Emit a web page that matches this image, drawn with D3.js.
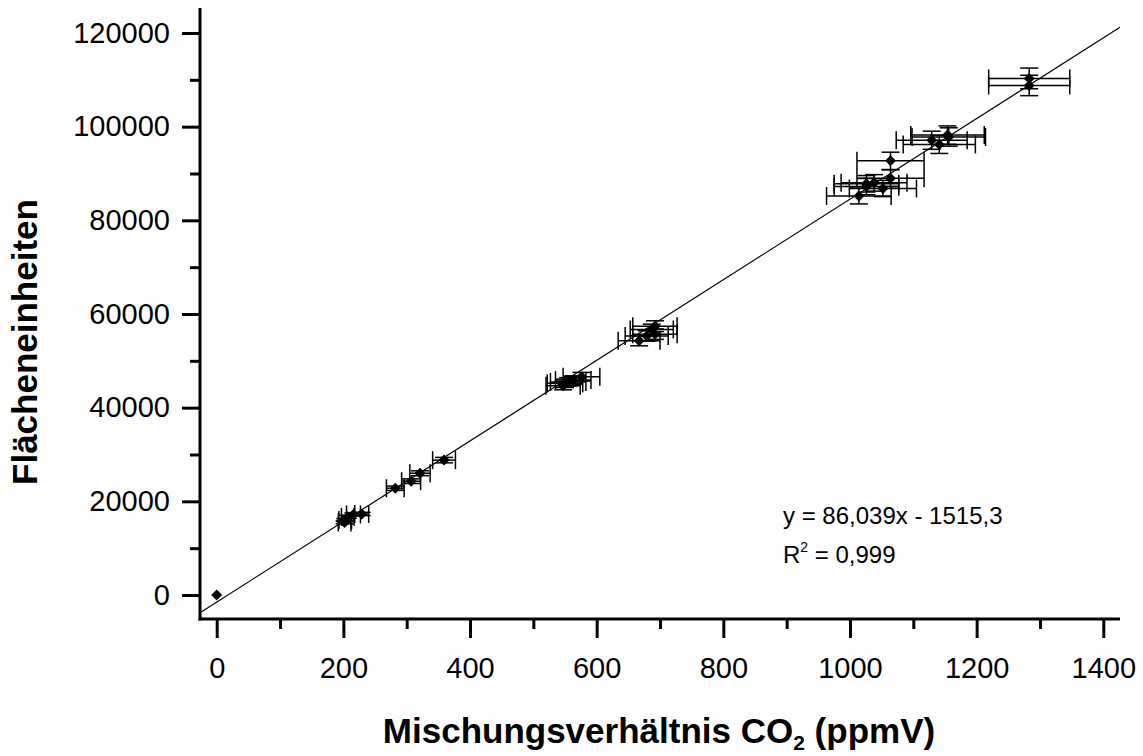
<!DOCTYPE html>
<html>
<head>
<meta charset="utf-8">
<script src="https://cdn.jsdelivr.net/npm/d3@7"></script>
<style>
  body { margin: 0; background: #fff; }
  svg { display: block; font-family: Arial, "Liberation Sans", sans-serif; }
</style>
</head>
<body>
<svg id="chart" width="1143" height="756"></svg>
<script>
// ---- data ----
const xValues = [0, 202, 203, 207, 216, 229, 282, 307, 321, 359,
  547, 550, 555, 563, 576, 667, 679, 687, 692, 692,
  1014, 1026, 1026, 1038, 1052, 1064, 1064, 1129, 1141, 1154, 1156, 1283, 1283];
const yValues = [0, 15500, 16000, 16700, 17200, 17300, 22800, 24300, 26000, 28800,
  44700, 45200, 45500, 45900, 46600, 54300, 55300, 56700, 55700, 57400,
  85200, 87800, 87200, 88000, 86800, 89000, 92700, 97100, 96200, 98200, 97800, 110300, 108800];
const xErrors = [0, 10, 10, 10, 11, 11, 14, 15, 16, 18,
  27, 28, 28, 28, 29, 33, 34, 34, 35, 35,
  51, 51, 51, 52, 53, 53, 53, 56, 57, 58, 58, 64, 64];
const yErrors = [0, 310, 320, 330, 340, 350, 460, 490, 520, 580,
  890, 900, 910, 920, 930, 1090, 1110, 1130, 1110, 1150,
  1700, 1760, 1740, 1760, 1740, 1780, 1850, 1940, 1920, 1960, 1960, 2210, 2180];
const fitSlope = 86.039;
const fitIntercept = -1515.3;
const xMajorTicks = [0, 200, 400, 600, 800, 1000, 1200, 1400];
const xMinorTicks = [100, 300, 500, 700, 900, 1100, 1300];
const yMajorTicks = [0, 20000, 40000, 60000, 80000, 100000, 120000];
const yMinorTicks = [10000, 30000, 50000, 70000, 90000, 110000];
const xTitle = "Mischungsverhältnis CO";
const xTitleSub = "2";
const xTitleTail = " (ppmV)";
const yTitle = "Flächeneinheiten";
const eqLine1 = "y = 86,039x - 1515,3";
const r2Value = "0,999";

// ---- layout ----
const svg = d3.select("#chart");
const x = d3.scaleLinear().domain([0, 1400]).range([216.7, 1103.3]);
const y = d3.scaleLinear().domain([0, 120000]).range([595, 33]);
const axisLeftX = 200, axisBottomY = 619;
const axisRightX = 1120, axisTopY = 8;

const points = xValues.map((v, i) => ({ x: v, y: yValues[i], ex: xErrors[i], ey: yErrors[i] }));

// regression line across the whole plot width
const xa = x.invert(axisLeftX), xb = x.invert(axisRightX);
svg.append("line")
  .attr("x1", x(xa)).attr("y1", y(fitSlope * xa + fitIntercept))
  .attr("x2", x(xb)).attr("y2", y(fitSlope * xb + fitIntercept))
  .attr("stroke", "#000").attr("stroke-width", 1.2);

// error bars
const cap = 9;
const eb = svg.append("g").attr("stroke", "#000").attr("stroke-width", 1.5).attr("fill", "none");
points.filter(d => d.ex > 0 || d.ey > 0).forEach(d => {
  const cx = x(d.x), cy = y(d.y);
  const xl = x(d.x - d.ex), xr = x(d.x + d.ex);
  const yt = y(d.y + d.ey), yb = y(d.y - d.ey);
  eb.append("line").attr("x1", xl).attr("x2", xr).attr("y1", cy).attr("y2", cy);
  eb.append("line").attr("x1", xl).attr("x2", xl).attr("y1", cy - cap).attr("y2", cy + cap);
  eb.append("line").attr("x1", xr).attr("x2", xr).attr("y1", cy - cap).attr("y2", cy + cap);
  eb.append("line").attr("x1", cx).attr("x2", cx).attr("y1", yt).attr("y2", yb);
  eb.append("line").attr("x1", cx - cap).attr("x2", cx + cap).attr("y1", yt).attr("y2", yt);
  eb.append("line").attr("x1", cx - cap).attr("x2", cx + cap).attr("y1", yb).attr("y2", yb);
});

// diamond markers
const r = 5.5;
svg.append("g").selectAll("path").data(points).join("path")
  .attr("d", d => {
    const cx = x(d.x), cy = y(d.y);
    return `M${cx},${cy - r}L${cx + r},${cy}L${cx},${cy + r}L${cx - r},${cy}Z`;
  })
  .attr("fill", "#000");

// ---- axes ----
const tickFont = 29;
const gx = svg.append("g").attr("transform", `translate(0,${axisBottomY})`);
gx.call(d3.axisBottom(x).tickValues(xMajorTicks).tickSize(19).tickSizeOuter(0).tickPadding(0).tickFormat(d3.format("d")));
gx.select(".domain").remove();
gx.selectAll(".tick line").attr("stroke", "#000").attr("stroke-width", 3);
gx.selectAll(".tick text").attr("font-size", tickFont).attr("font-family", "Arial, 'Liberation Sans', sans-serif")
  .attr("fill", "#000").attr("y", 58.7).attr("dy", null);
const gxm = svg.append("g").attr("transform", `translate(0,${axisBottomY})`);
gxm.call(d3.axisBottom(x).tickValues(xMinorTicks).tickSize(10).tickSizeOuter(0).tickFormat(""));
gxm.select(".domain").remove();
gxm.selectAll(".tick line").attr("stroke", "#000").attr("stroke-width", 3);

const gy = svg.append("g").attr("transform", `translate(${axisLeftX},0)`);
gy.call(d3.axisLeft(y).tickValues(yMajorTicks).tickSize(18).tickSizeOuter(0).tickPadding(12).tickFormat(d3.format("d")));
gy.select(".domain").remove();
gy.selectAll(".tick line").attr("stroke", "#000").attr("stroke-width", 3);
gy.selectAll(".tick text").attr("font-size", tickFont).attr("font-family", "Arial, 'Liberation Sans', sans-serif")
  .attr("fill", "#000");
const gym = svg.append("g").attr("transform", `translate(${axisLeftX},0)`);
gym.call(d3.axisLeft(y).tickValues(yMinorTicks).tickSize(10).tickSizeOuter(0).tickFormat(""));
gym.select(".domain").remove();
gym.selectAll(".tick line").attr("stroke", "#000").attr("stroke-width", 3);

// axis lines
svg.append("line").attr("x1", axisLeftX - 1.5).attr("x2", axisRightX).attr("y1", axisBottomY).attr("y2", axisBottomY)
  .attr("stroke", "#000").attr("stroke-width", 3);
svg.append("line").attr("x1", axisLeftX).attr("x2", axisLeftX).attr("y1", axisTopY).attr("y2", axisBottomY + 1.5)
  .attr("stroke", "#000").attr("stroke-width", 3);

// ---- titles ----
const xt = svg.append("text").attr("x", 659).attr("y", 743).attr("text-anchor", "middle")
  .attr("font-size", 35).attr("font-weight", "bold").attr("fill", "#000");
xt.append("tspan").text(xTitle);
xt.append("tspan").attr("font-size", 21).attr("dy", 7).text(xTitleSub);
xt.append("tspan").attr("dy", -7).text(xTitleTail);

svg.append("text").attr("transform", "translate(37.3,342) rotate(-90)").attr("text-anchor", "middle")
  .attr("font-size", 35).attr("font-weight", "bold").attr("fill", "#000").text(yTitle);

// ---- equation ----
svg.append("text").attr("x", 783).attr("y", 524).attr("font-size", 24).attr("fill", "#000").text(eqLine1);
const r2 = svg.append("text").attr("x", 783).attr("y", 563).attr("font-size", 24).attr("fill", "#000");
r2.append("tspan").text("R");
r2.append("tspan").attr("font-size", 14).attr("dy", -11).text("2");
r2.append("tspan").attr("dy", 11).text(" = " + r2Value);
</script>
</body>
</html>
